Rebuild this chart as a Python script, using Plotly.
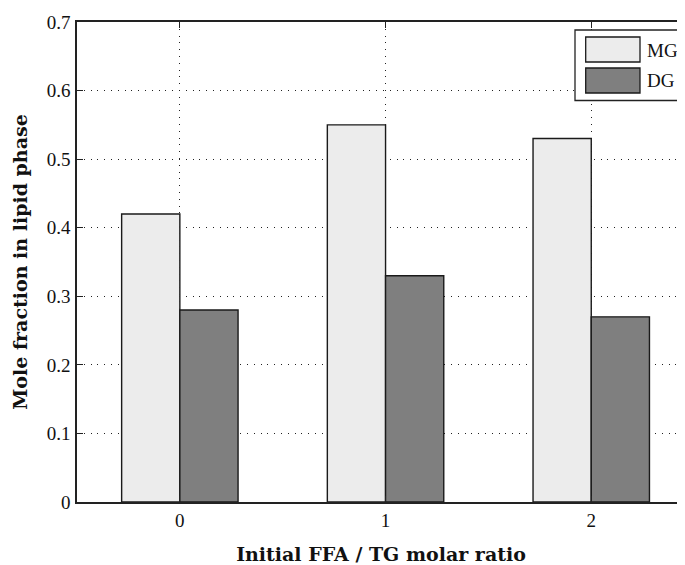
import plotly.graph_objects as go

categories = [0, 1, 2]
mg_values = [0.42, 0.55, 0.53]
dg_values = [0.28, 0.33, 0.27]
series_names = ["MG", "DG"]
series_colors = ["#ECECEC", "#7F7F7F"]
y_ticks = [0, 0.1, 0.2, 0.3, 0.4, 0.5, 0.6, 0.7]
x_title = "Initial FFA / TG molar ratio"
y_title = "Mole fraction in lipid phase"

# the page body has an 8px margin; compensate so the plot lands where the reference has it
OFF = 8
W, H = 685 - OFF, 565 - OFF
L, T, B = 77 - OFF, 22 - OFF, 63
pw, ph = W - L, H - T - B

fig = go.Figure()
for name, vals, col in zip(series_names, [mg_values, dg_values], series_colors):
    fig.add_trace(go.Bar(
        x=categories, y=vals, name=name,
        marker=dict(color=col, line=dict(color="#1a1a1a", width=1.4)),
        showlegend=False,
    ))

px_per_unit = 205.7
x_end = -0.5 + pw / px_per_unit

tickfont = dict(family="Liberation Serif", size=19, color="#111")
titlefont = dict(family="DejaVu Serif", size=19, color="#111", weight="bold")
griddash = "1px,5.8px"

fig.update_layout(
    width=W, height=H,
    margin=dict(l=L, r=0, t=T, b=B, autoexpand=False),
    paper_bgcolor="white", plot_bgcolor="white",
    barmode="group", bargap=0.434, bargroupgap=0,
    showlegend=False,
    xaxis=dict(
        range=[-0.5, x_end], tickmode="array", tickvals=categories,
        ticktext=[str(c) for c in categories],
        showgrid=True, gridcolor="#222", griddash=griddash, gridwidth=1.2,
        showline=True, linecolor="#222", linewidth=1.5, mirror="ticks",
        ticks="inside", ticklen=6, tickcolor="#222",
        tickfont=tickfont, zeroline=False, ticklabelstandoff=0,
        title=dict(text=x_title, font=titlefont, standoff=20),
    ),
    yaxis=dict(
        range=[0, 0.7], tickmode="array", tickvals=y_ticks,
        ticktext=[("%g" % v) for v in y_ticks],
        showgrid=True, gridcolor="#222", griddash=griddash, gridwidth=1.2,
        showline=True, linecolor="#222", linewidth=1.5,
        ticks="inside", ticklen=6, tickcolor="#222",
        tickfont=tickfont, zeroline=False, ticklabelstandoff=1,
        title=dict(text=y_title, font=titlefont, standoff=14),
    ),
)

# legend box (MATLAB style, partially cropped at right edge); coords in reference pixels
def px(x):
    return (x - 77) / pw
def py(y):
    return (502 - y) / ph

shapes = [
    dict(type="rect", xref="paper", yref="paper", x0=px(575), x1=px(700),
         y0=py(100.5), y1=py(30), fillcolor="white", line=dict(color="#222", width=1.3), layer="above"),
]
legend_rows = [(37, 62, 50), (68, 93, 80.5)]
annotations = []
for (ya, yb, yc), name, col in zip(legend_rows, series_names, series_colors):
    shapes.append(dict(type="rect", xref="paper", yref="paper", x0=px(585.7), x1=px(640),
                       y0=py(yb), y1=py(ya), fillcolor=col, line=dict(color="#1a1a1a", width=1.3), layer="above"))
    annotations.append(dict(xref="paper", yref="paper", x=px(645), y=py(yc), text=name,
                            showarrow=False, xanchor="left", yanchor="middle",
                            font=dict(family="Liberation Serif", size=19, color="#111")))
fig.update_layout(shapes=shapes, annotations=annotations)

fig.write_html("out.html")
